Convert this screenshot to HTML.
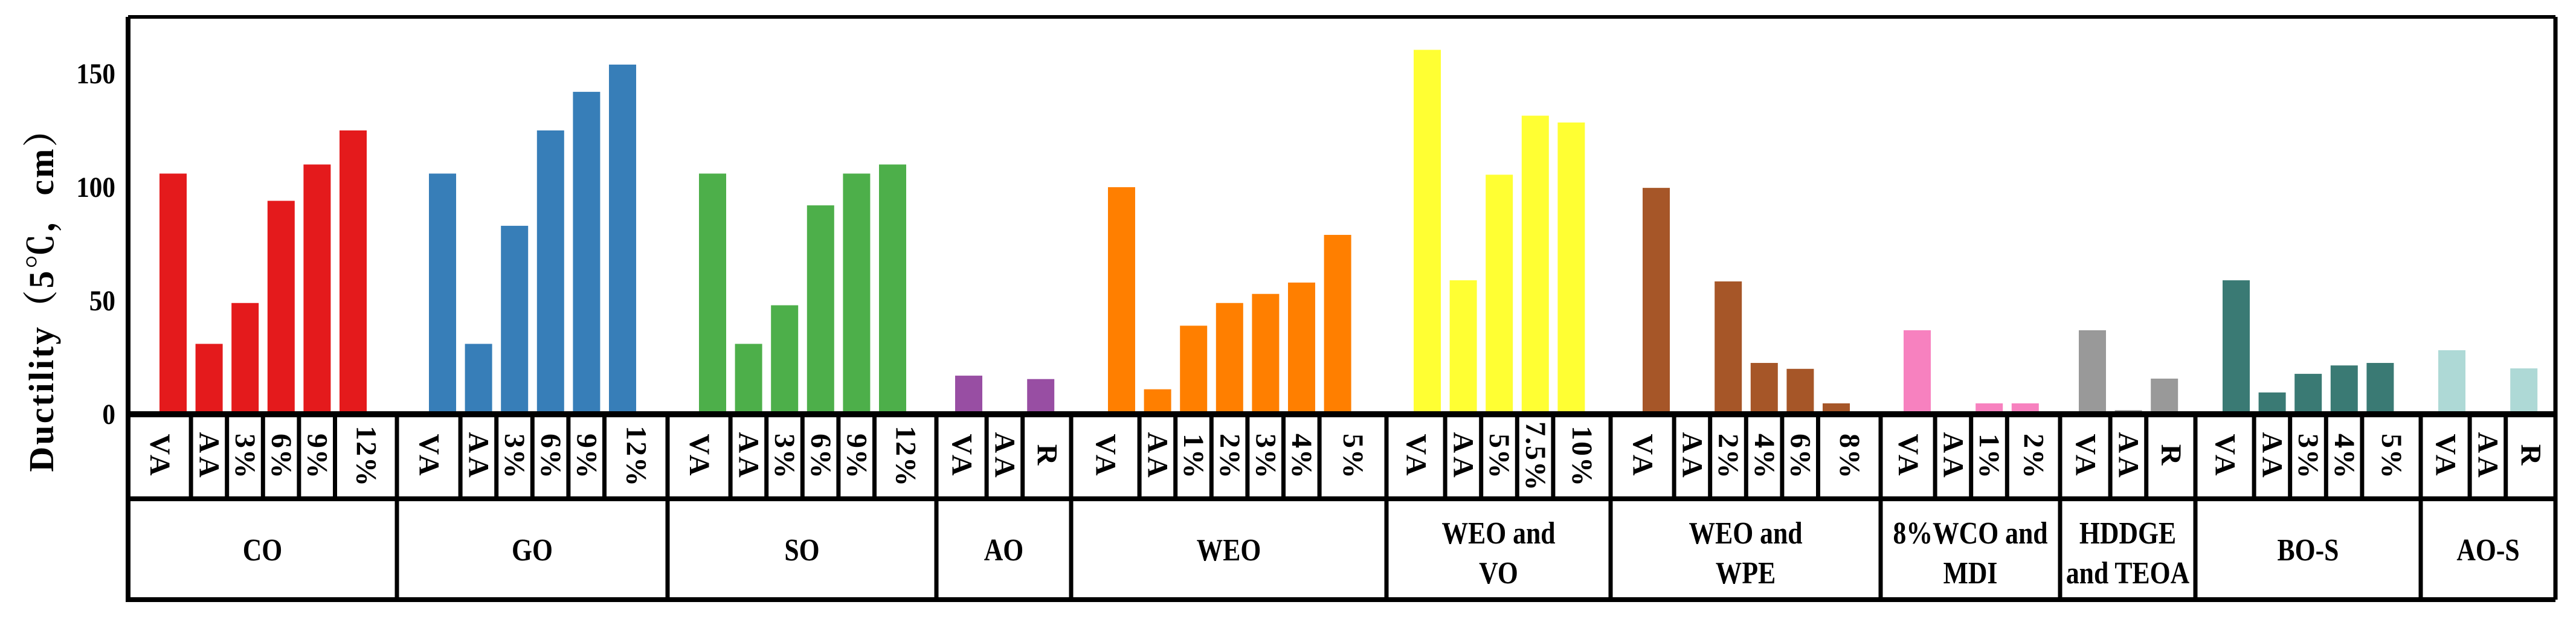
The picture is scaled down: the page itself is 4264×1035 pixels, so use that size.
<!DOCTYPE html>
<html><head><meta charset="utf-8"><style>
html,body{margin:0;padding:0;background:#fff;}
svg{display:block;}
text{font-family:"Liberation Serif","Noto Serif CJK SC",serif;font-weight:bold;fill:#000;}
</style></head><body>
<svg id="chart" width="4264" height="1035" viewBox="0 0 4264 1035" xmlns="http://www.w3.org/2000/svg">
<g id="bars"></g>
<g id="frame"></g>
<g id="labels"></g>
<text transform="translate(88,482) rotate(-90)" text-anchor="middle" font-size="58" letter-spacing="3">Ductility（5℃，cm）</text>
</svg>
<script>
const groupNames = [["CO"],["GO"],["SO"],["AO"],["WEO"],["WEO and","VO"],["WEO and","WPE"],["8%WCO and","MDI"],["HDDGE","and TEOA"],["BO-S"],["AO-S"]];
const subLabels = [
 ["VA","AA","3%","6%","9%","12%"],
 ["VA","AA","3%","6%","9%","12%"],
 ["VA","AA","3%","6%","9%","12%"],
 ["VA","AA","R"],
 ["VA","AA","1%","2%","3%","4%","5%"],
 ["VA","AA","5%","7.5%","10%"],
 ["VA","AA","2%","4%","6%","8%"],
 ["VA","AA","1%","2%"],
 ["VA","AA","R"],
 ["VA","AA","3%","4%","5%"],
 ["VA","AA","R"]];
const valuesCO = [106,31,49,94,110,125];
const valuesGO = [106,31,83,125,142,154];
const valuesSO = [106,31,48,92,106,110];
const valuesAO = [17,0.8,15.5];
const valuesWEO = [100,11,39,49,53,58,79];
const valuesWEOVO = [160.5,59,105.5,131.5,128.5];
const valuesWEOWPE = [99.7,0,58.5,22.6,20,4.8];
const valuesMDI = [37,0,4.8,4.8];
const valuesHDDGE = [37,1.8,15.7];
const valuesBOS = [59,9.6,17.8,21.5,22.6];
const valuesAOS = [28.2,0,20.2];
const yTicks = [0,50,100,150];
const seriesValues = [valuesCO,valuesGO,valuesSO,valuesAO,valuesWEO,valuesWEOVO,valuesWEOWPE,valuesMDI,valuesHDDGE,valuesBOS,valuesAOS];
const colors = ["#e41a1c","#377eb8","#4daf4a","#984ea3","#ff7f00","#ffff33","#a65628","#f781bf","#999999","#3a7a74","#aed9d6"];
// layout
const groupEdges = [212,657,1105,1550,1773,2295,2666,3113,3410,3634,4007,4230];
const groupFirstBar = [264,710,1157,1581,1834,2340,2719,3151,3441,3679,4036];
const pitch = 59.6, bw = 45;
const y0 = 686, pxPerUnit = 3.76;
const yScale = v => y0 - v*pxPerUnit;
const rowTop = 686, rowMid = 826, rowBot = 993, frameTop = 28;
const NS = "http://www.w3.org/2000/svg";
function mk(tag, attrs, parent){const e=document.createElementNS(NS,tag);for(const k in attrs)e.setAttribute(k,attrs[k]);parent.appendChild(e);return e;}
const barsG=document.getElementById('bars'), frameG=document.getElementById('frame'), labelsG=document.getElementById('labels');
seriesValues.forEach((vals,g)=>{
  vals.forEach((v,i)=>{
    const x = groupFirstBar[g] + i*pitch;
    const r = mk('rect',{x:x,y:yScale(v),width:bw,height:y0-yScale(v),fill:colors[g]},barsG);
    
    
    const left = i===0 ? groupEdges[g] : x - 7.5;
    const right = i===vals.length-1 ? groupEdges[g+1] : x + bw + 7.5;
    const cx = (left+right)/2, cy = (rowTop+rowMid)/2;
    const lab = subLabels[g][i];
    const t = mk('text',{transform:`translate(${cx},${cy}) rotate(90)`,'text-anchor':'middle','dominant-baseline':'central','font-size':48,'letter-spacing':lab.indexOf('%')<0?6:2},labelsG);
    t.textContent = lab;
    
    
    if(i>0){
      const d = mk('line',{x1:left,x2:left,y1:rowTop,y2:rowMid,stroke:'#000','stroke-width':7},frameG);
      
      
    }
  });
  const gx = (groupEdges[g]+groupEdges[g+1])/2;
  const lines = groupNames[g];
  lines.forEach((ln,j)=>{
    const ty = lines.length===1 ? 928 : 900 + j*66;
    const t = mk('text',{transform:`translate(${gx},${ty}) scale(0.84,1)`,'text-anchor':'middle','font-size':52},labelsG);
    t.textContent = ln;
    
    
  });
  if(g>0){
    const d = mk('line',{x1:groupEdges[g],x2:groupEdges[g],y1:rowTop,y2:rowBot,stroke:'#000','stroke-width':7},frameG);
    
    
  }
});
const fl = [
 [212,frameTop,4230,frameTop,6],[212,frameTop,212,rowBot+4,8],[4230,frameTop,4230,rowBot,7],
 [212,y0,4230,y0,10],[212,rowMid,4230,rowMid,8],[212,rowBot,4230,rowBot,8]];
fl.forEach(a=>{const l=mk('line',{x1:a[0],y1:a[1],x2:a[2],y2:a[3],stroke:'#000','stroke-width':a[4]},frameG);
  
  });
yTicks.forEach(v=>{
  const t = mk('text',{transform:`translate(191,${yScale(v)+16}) scale(0.9,1)`,'text-anchor':'end','font-size':48},labelsG);
  t.textContent = v;
  
  
});
</script>
</body></html>
